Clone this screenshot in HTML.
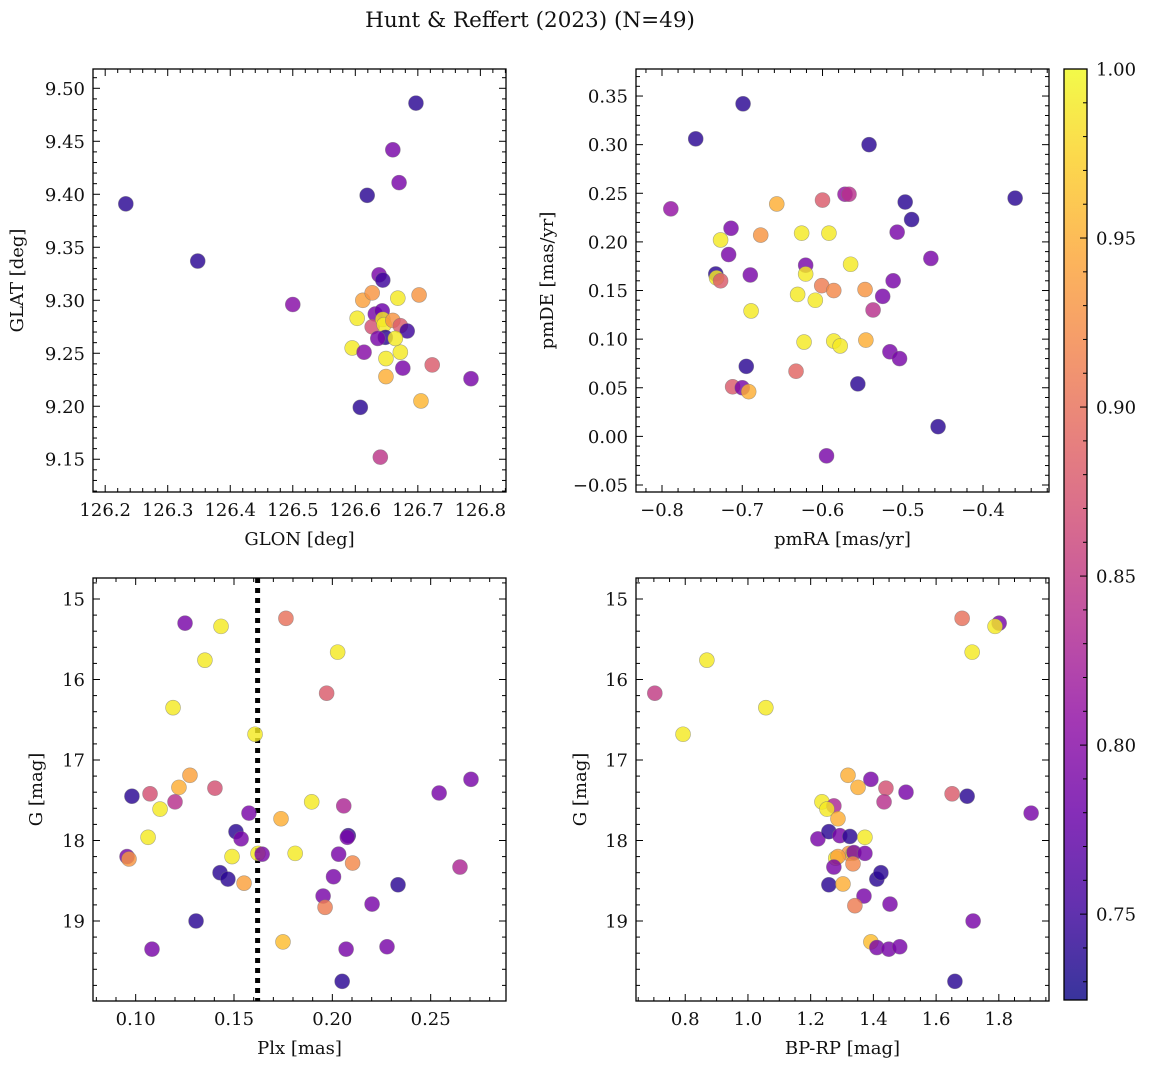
<!DOCTYPE html>
<html><head><meta charset="utf-8"><style>
html,body{margin:0;padding:0;background:#fff;}
svg text{font-family:"DejaVu Serif","Liberation Serif",serif;fill:#111;}
</style></head><body>
<svg id="fig" width="1149" height="1068" viewBox="0 0 1149 1068" xmlns="http://www.w3.org/2000/svg">
<defs><linearGradient id="cbg" x1="0" y1="1" x2="0" y2="0">
<stop offset="0" stop-color="#0d0887"/><stop offset="0.1" stop-color="#41049d"/><stop offset="0.2" stop-color="#6a00a8"/><stop offset="0.3" stop-color="#8f0da4"/><stop offset="0.4" stop-color="#b12a90"/><stop offset="0.5" stop-color="#cc4778"/><stop offset="0.6" stop-color="#e16462"/><stop offset="0.7" stop-color="#f2844b"/><stop offset="0.8" stop-color="#fca636"/><stop offset="0.9" stop-color="#fcce25"/><stop offset="1" stop-color="#f0f921"/>
</linearGradient></defs>
<text x="530" y="27" font-size="21.5" text-anchor="middle">Hunt &amp; Reffert (2023) (N=49)</text>
</svg>
<script>
// Top-left: GLON vs GLAT
const tlGlon=[126.233,126.348,126.697,126.660,126.670,126.619,126.500,126.785,126.723,126.608,126.640,126.705,126.702,126.668,126.638,126.644,126.612,126.627,126.603,126.595,126.614,126.649,126.649,126.676,126.672,126.632,126.643,126.627,126.644,126.646,126.660,126.672,126.683,126.648,126.664,126.636];
const tlGlat=[9.391,9.337,9.486,9.442,9.411,9.399,9.296,9.226,9.239,9.199,9.152,9.205,9.305,9.302,9.324,9.319,9.300,9.307,9.283,9.255,9.251,9.245,9.228,9.236,9.251,9.287,9.290,9.275,9.282,9.277,9.281,9.276,9.271,9.265,9.264,9.264];
const tlC=[0.74,0.74,0.74,0.79,0.79,0.74,0.80,0.79,0.88,0.74,0.845,0.955,0.93,0.99,0.79,0.75,0.94,0.93,0.99,0.99,0.80,0.99,0.95,0.79,0.99,0.79,0.78,0.87,0.99,0.99,0.93,0.88,0.75,0.74,0.99,0.79];
// Top-right: pmRA vs pmDE
const trPmra=[-0.699,-0.758,-0.542,-0.360,-0.497,-0.489,-0.789,-0.572,-0.567,-0.600,-0.677,-0.657,-0.727,-0.714,-0.717,-0.733,-0.732,-0.727,-0.690,-0.621,-0.621,-0.592,-0.626,-0.565,-0.601,-0.586,-0.609,-0.631,-0.547,-0.512,-0.525,-0.537,-0.507,-0.465,-0.689,-0.623,-0.586,-0.578,-0.546,-0.516,-0.504,-0.695,-0.633,-0.712,-0.700,-0.692,-0.556,-0.456,-0.595];
const trPmde=[0.342,0.306,0.300,0.245,0.241,0.223,0.234,0.249,0.249,0.243,0.207,0.239,0.202,0.214,0.187,0.167,0.163,0.160,0.166,0.176,0.167,0.209,0.209,0.177,0.155,0.150,0.140,0.146,0.151,0.160,0.144,0.130,0.210,0.183,0.129,0.097,0.098,0.093,0.099,0.087,0.080,0.072,0.067,0.051,0.050,0.046,0.054,0.010,-0.020];
const trC=[0.74,0.74,0.74,0.74,0.74,0.74,0.81,0.81,0.84,0.88,0.93,0.95,0.99,0.79,0.79,0.74,0.99,0.88,0.79,0.79,0.99,0.99,0.99,0.99,0.91,0.92,0.99,0.99,0.93,0.79,0.79,0.84,0.79,0.79,0.99,0.99,0.99,0.99,0.95,0.79,0.79,0.74,0.89,0.88,0.79,0.95,0.74,0.74,0.79];
// Bottom-left: Plx vs G
const blPlx=[0.1251,0.1434,0.1764,0.1352,0.2027,0.1971,0.119,0.1607,0.1276,0.122,0.1403,0.1073,0.0981,0.12,0.1124,0.1895,0.2058,0.1576,0.1739,0.2543,0.2705,0.1063,0.151,0.1536,0.2081,0.2076,0.1429,0.1469,0.149,0.1551,0.1622,0.1643,0.1811,0.0956,0.0966,0.2032,0.2103,0.2006,0.2649,0.2334,0.1953,0.1963,0.2202,0.1307,0.1749,0.1083,0.207,0.2278,0.205];
const blG=[15.30,15.34,15.24,15.76,15.66,16.17,16.35,16.68,17.19,17.34,17.35,17.42,17.45,17.52,17.61,17.52,17.57,17.66,17.73,17.41,17.24,17.96,17.89,17.98,17.94,17.96,18.40,18.48,18.20,18.53,18.16,18.17,18.16,18.20,18.23,18.17,18.28,18.45,18.33,18.55,18.69,18.83,18.79,19.00,19.26,19.35,19.35,19.32,19.75];
const blC=[0.79,0.99,0.90,0.99,0.99,0.88,0.99,0.99,0.94,0.95,0.87,0.87,0.74,0.84,0.99,0.99,0.83,0.79,0.95,0.79,0.79,0.99,0.74,0.79,0.74,0.79,0.74,0.74,0.99,0.94,0.99,0.79,0.99,0.79,0.93,0.79,0.92,0.79,0.83,0.74,0.79,0.91,0.79,0.74,0.96,0.79,0.79,0.79,0.74];
// Bottom-right: BP-RP vs G
const brBprp=[1.683,1.801,1.788,1.715,0.869,0.703,1.057,0.793,1.319,1.351,1.392,1.440,1.504,1.651,1.699,1.236,1.274,1.252,1.434,1.903,1.287,1.223,1.258,1.293,1.325,1.373,1.322,1.280,1.287,1.335,1.338,1.373,1.274,1.335,1.411,1.424,1.258,1.303,1.370,1.341,1.453,1.718,1.392,1.411,1.449,1.484,1.660];
const brG=[15.24,15.30,15.34,15.66,15.76,16.17,16.35,16.68,17.19,17.34,17.24,17.35,17.40,17.42,17.45,17.52,17.57,17.61,17.52,17.66,17.73,17.98,17.89,17.94,17.95,17.96,18.16,18.22,18.20,18.16,18.15,18.16,18.33,18.29,18.48,18.40,18.55,18.54,18.69,18.81,18.79,19.00,19.26,19.33,19.35,19.32,19.75];
const brC=[0.90,0.79,0.99,0.99,0.99,0.85,0.99,0.99,0.95,0.95,0.79,0.87,0.79,0.88,0.74,0.99,0.83,0.99,0.84,0.79,0.95,0.79,0.74,0.79,0.74,0.99,0.93,0.99,0.94,0.99,0.79,0.79,0.79,0.92,0.74,0.74,0.74,0.95,0.79,0.91,0.79,0.79,0.96,0.79,0.79,0.79,0.74];
const plxMean=[0.162];
const cbTicks=[0.75,0.80,0.85,0.90,0.95,1.00];

const NS="http://www.w3.org/2000/svg";
const svg=document.getElementById('fig');
const VMIN=0.7246,VMAX=1.0;
const FS=18;
const stops=[[13,8,135],[65,4,157],[106,0,168],[143,13,164],[177,42,144],[204,71,120],[225,100,98],[242,132,75],[252,166,54],[252,206,37],[240,249,33]];
function plasma(v){let t=(v-VMIN)/(VMAX-VMIN);t=Math.max(0,Math.min(1,t))*10;const i=Math.min(9,Math.floor(t)),f=t-i;const a=stops[i],b=stops[i+1];return 'rgb('+a.map((x,k)=>Math.round(x+(b[k]-x)*f)).join(',')+')';}
function el(tag,attrs,parent){const e=document.createElementNS(NS,tag);for(const k in attrs)e.setAttribute(k,attrs[k]);(parent||svg).appendChild(e);return e;}
function fmt(v,d){let s=v.toFixed(d);if(v<0)s='\u2212'+s.slice(1);return s;}

function panel(o){
  const g=el('g',{});
  
  
  const X=v=>o.x0+(v-o.xmin)/(o.xmax-o.xmin)*o.w;
  const Y=o.yinv?(v=>o.y0+(v-o.ymin)/(o.ymax-o.ymin)*o.h):(v=>o.y0+o.h-(v-o.ymin)/(o.ymax-o.ymin)*o.h);
  const clip=el('clipPath',{id:'c'+o.name},g);el('rect',{x:o.x0,y:o.y0,width:o.w,height:o.h},clip);
  const pts=el('g',{'clip-path':'url(#c'+o.name+')'},g);
  
  
  if(o.vline){for(const v of o.vline){const l=el('line',{x1:X(v),x2:X(v),y1:o.y0,y2:o.y0+o.h,stroke:'#000','stroke-width':5,'stroke-dasharray':'5,5'},pts);
    
    }}
  for(let i=0;i<o.xs.length;i++){
    const c=el('circle',{cx:X(o.xs[i]),cy:Y(o.ys[i]),r:7.5,fill:plasma(o.cs[i]),'fill-opacity':0.82,stroke:'#777','stroke-opacity':0.6,'stroke-width':0.6},pts);
    
    
  }
  const ax=el('g',{},g);
  
  
  el('rect',{x:o.x0,y:o.y0,width:o.w,height:o.h,fill:'none',stroke:'#000','stroke-width':1.3},ax);
  const eps=1e-9;
  for(let v=Math.ceil(o.xmin/o.xminor-eps)*o.xminor;v<=o.xmax+eps;v+=o.xminor){
    const x=X(v);const maj=Math.abs(v/o.xmajor-Math.round(v/o.xmajor))<1e-6;const L=maj?7:4;
    el('line',{x1:x,x2:x,y1:o.y0+o.h,y2:o.y0+o.h-L,stroke:'#000','stroke-width':1},ax);
    el('line',{x1:x,x2:x,y1:o.y0,y2:o.y0+L,stroke:'#000','stroke-width':1},ax);
    if(maj){const t=el('text',{x:x,y:o.y0+o.h+24,'font-size':FS,'text-anchor':'middle'},ax);t.textContent=fmt(v,o.xd);
      
      }
  }
  for(let v=Math.ceil(o.ymin/o.yminor-eps)*o.yminor;v<=o.ymax+eps;v+=o.yminor){
    const y=Y(v);const maj=Math.abs(v/o.ymajor-Math.round(v/o.ymajor))<1e-6;const L=maj?7:4;
    el('line',{x1:o.x0,x2:o.x0+L,y1:y,y2:y,stroke:'#000','stroke-width':1},ax);
    el('line',{x1:o.x0+o.w,x2:o.x0+o.w-L,y1:y,y2:y,stroke:'#000','stroke-width':1},ax);
    if(maj){const t=el('text',{x:o.x0-8,y:y+6.5,'font-size':FS,'text-anchor':'end'},ax);t.textContent=fmt(v,o.yd);
      
      }
  }
  const xl=el('text',{x:o.x0+o.w/2,y:o.y0+o.h+53,'font-size':FS,'text-anchor':'middle'},ax);xl.textContent=o.xlabel;
  
  
  const yx=o.ylx;const yy=o.y0+o.h/2;
  const yl=el('text',{x:yx,y:yy,'font-size':FS,'text-anchor':'middle',transform:'rotate(-90 '+yx+' '+yy+')'},ax);yl.textContent=o.ylabel;
  
  
}

panel({name:'glon-glat-panel',x0:93,y0:69,w:413,h:423,xmin:126.1805,xmax:126.841,ymin:9.1191,ymax:9.5182,xmajor:0.1,xminor:0.02,ymajor:0.05,yminor:0.01,xd:1,yd:2,xs:tlGlon,ys:tlGlat,cs:tlC,xlabel:'GLON [deg]',ylabel:'GLAT [deg]',ylx:23});
panel({name:'pm-panel',x0:636,y0:69,w:413,h:423,xmin:-0.8324,xmax:-0.3178,ymin:-0.0572,ymax:0.3778,xmajor:0.1,xminor:0.02,ymajor:0.05,yminor:0.01,xd:1,yd:2,xs:trPmra,ys:trPmde,cs:trC,xlabel:'pmRA [mas/yr]',ylabel:'pmDE [mas/yr]',ylx:553});
panel({name:'plx-g-panel',x0:93,y0:578,w:413,h:423,xmin:0.0783,xmax:0.2883,ymin:14.739,ymax:19.994,yinv:true,xmajor:0.05,xminor:0.01,ymajor:1,yminor:0.2,xd:2,yd:0,xs:blPlx,ys:blG,cs:blC,xlabel:'Plx [mas]',ylabel:'G [mag]',ylx:42,vline:plxMean});
panel({name:'cmd-panel',x0:636,y0:578,w:413,h:423,xmin:0.643,xmax:1.960,ymin:14.739,ymax:19.994,yinv:true,xmajor:0.2,xminor:0.05,ymajor:1,yminor:0.2,xd:1,yd:0,xs:brBprp,ys:brG,cs:brC,xlabel:'BP-RP [mag]',ylabel:'G [mag]',ylx:586});

// colorbar
const cb=el('g',{});


const cbx=1064,cby=69,cbw=23,cbh=931;
el('rect',{x:cbx,y:cby,width:cbw,height:cbh,fill:'url(#cbg)','fill-opacity':0.82},cb);
el('rect',{x:cbx,y:cby,width:cbw,height:cbh,fill:'none',stroke:'#000','stroke-width':1.3},cb);
const CY=v=>cby+cbh-(v-VMIN)/(VMAX-VMIN)*cbh;
for(let v=0.73;v<=1.0001;v+=0.01){const y=CY(v);const maj=Math.abs(v*20-Math.round(v*20))<1e-6;
  el('line',{x1:cbx+cbw,x2:cbx+cbw-(maj?7:4),y1:y,y2:y,stroke:'#000','stroke-width':1},cb);}
for(const v of cbTicks){const t=el('text',{x:cbx+cbw+9,y:CY(v)+6.5,'font-size':FS},cb);t.textContent=v.toFixed(2);
  
  }
</script>
</body></html>
